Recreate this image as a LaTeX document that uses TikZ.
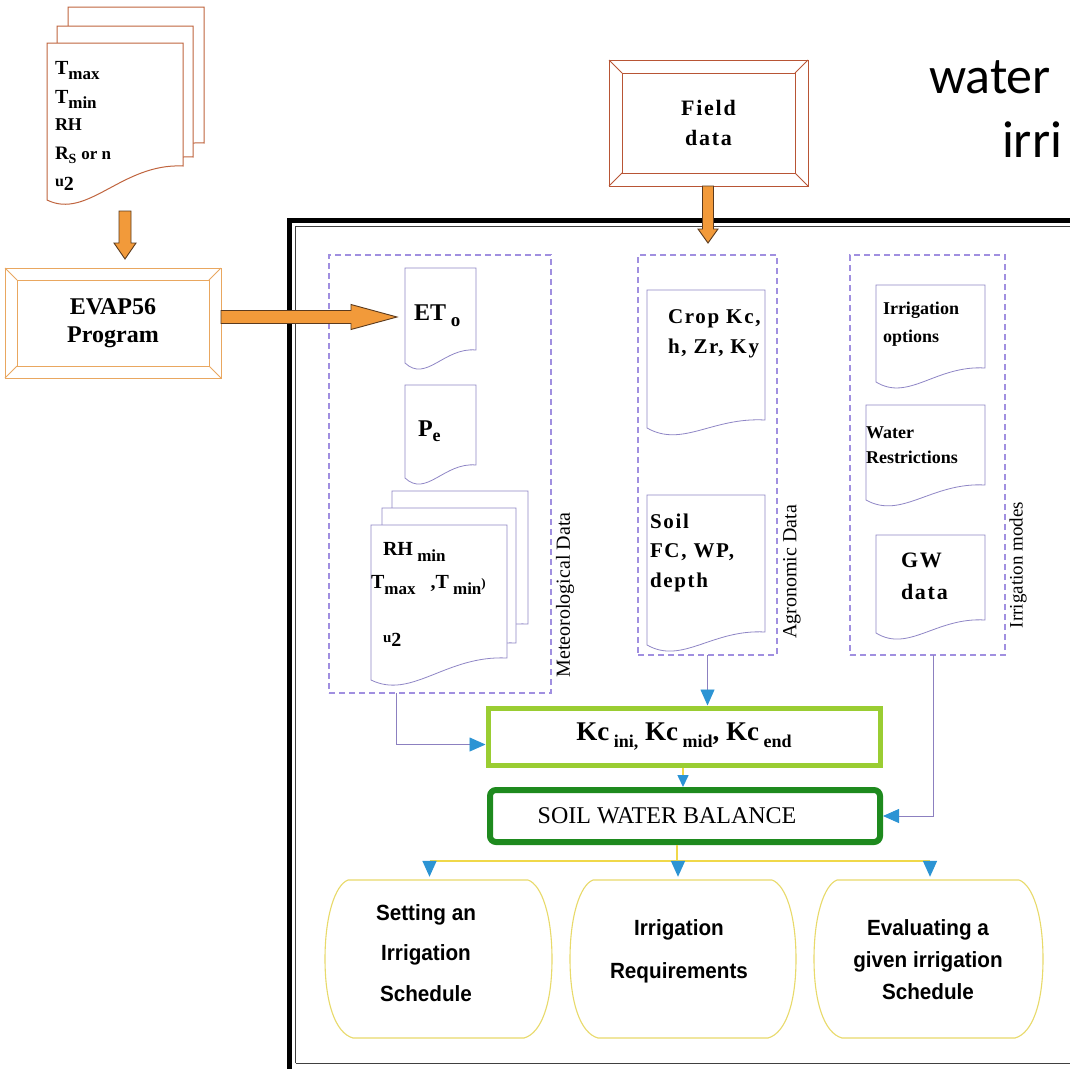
\documentclass[tikz,border=0pt]{standalone}
\usepackage{fontspec}
\setmainfont{Liberation Serif}
\newfontfamily\spacedserif[LetterSpace=8]{Liberation Serif}
\newfontfamily\titlefont{Carlito}
\newfontfamily\nodesans[FakeStretch=0.94]{Liberation Sans}
\usetikzlibrary{arrows.meta,calc}
\definecolor{docpurple}{HTML}{8F86C6}
\definecolor{dashpurple}{HTML}{A08FE0}
\definecolor{connpurple}{HTML}{8C80C0}
\definecolor{tipblue}{HTML}{2C94D4}
\definecolor{kcgreen}{HTML}{9ACD32}
\definecolor{swbgreen}{HTML}{1E8A1E}
\definecolor{nodeyellow}{HTML}{E8DA6A}
\definecolor{lineyellow}{HTML}{F0D84A}
\definecolor{orangefill}{HTML}{F29A3A}
\definecolor{arrowedge}{HTML}{5A3A1E}
\definecolor{evaporange}{HTML}{E9A760}
\definecolor{fieldred}{HTML}{B85535}
\definecolor{stackred}{HTML}{C0643E}
\newcommand\fs[1]{\fontsize{#1}{#1}\selectfont}
\newcommand\lsub[3]{\raisebox{#1}{\fontsize{#2}{#2}\selectfont #3}}
% document shape: style, L, T, R, Bright, Bleft
\newcommand\docpath[6]{\filldraw[#1] (#2,#3) -- (#4,#3) -- (#4,#5) .. controls ({#2+0.55*(#4-#2)},{#5-3}) and ({#2+0.3*(#4-#2)},{#6+20}) .. (#2,#6) -- cycle;}
% vertical block arrow: x, y1, y2, shaft half, head half, head length
\newcommand\vblock[6]{\filldraw[blockarrow] ({#1-#4},#2) -- ({#1+#4},#2) -- ({#1+#4},{#3-#6}) -- ({#1+#5},{#3-#6}) -- (#1,#3) -- ({#1-#5},{#3-#6}) -- ({#1-#4},{#3-#6}) -- cycle;}
% horizontal block arrow: x1, x2, y, shaft half, head half, head length
\newcommand\hblock[6]{\filldraw[blockarrow] (#1,{#3-#4}) -- ({#2-#6},{#3-#4}) -- ({#2-#6},{#3-#5}) -- (#2,#3) -- ({#2-#6},{#3+#5}) -- ({#2-#6},{#3+#4}) -- (#1,{#3+#4}) -- cycle;}
% bevel inner frame for a node: name, inset, colour
\newcommand\bevelin[3]{\draw[#3,line width=1pt] ($(#1.north west)+(#2,#2)$) rectangle ($(#1.south east)+(-#2,-#2)$);
 \draw[#3,line width=0.8pt] (#1.north west) -- ++(#2,#2) (#1.north east) -- ++(-#2,#2) (#1.south west) -- ++(#2,-#2) (#1.south east) -- ++(-#2,-#2);}
% barrel: x0, y0, x1, y1
\newcommand\barrel[4]{\draw[barrelline] ({#1+23},#2) -- ({#3-24},#2) .. controls ({#3-10},{#2+5}) and (#3,{#2+36}) .. (#3,{(#2+#4)/2}) .. controls (#3,{#4-36}) and ({#3-10},{#4-5}) .. ({#3-28},#4) -- ({#1+28},#4) .. controls ({#1+10},{#4-5}) and (#1,{#4-36}) .. (#1,{(#2+#4)/2}) .. controls (#1,{#2+36}) and ({#1+10},{#2+5}) .. cycle;}
\begin{document}
\begin{tikzpicture}[x=1pt,y=-1pt,
  txt/.style={anchor=base west,inner sep=0pt,outer sep=0pt},
  docline/.style={draw=docpurple,fill=white,line width=0.8pt},
  stackdoc/.style={draw=stackred,fill=white,line width=1pt},
  blockarrow/.style={fill=orangefill,draw=arrowedge,line width=0.9pt,line join=miter},
  dashbox/.style={draw=dashpurple,dashed,dash pattern=on 6pt off 4pt,line width=1.4pt,inner sep=0pt,outer sep=0pt},
  conn/.style={draw=connpurple,line width=0.9pt},
  ylw/.style={draw=lineyellow,line width=1.6pt},
  btip/.style={-{Triangle[width=14pt,length=16pt,color=tipblue]}},
  stip/.style={-{Triangle[width=11pt,length=12pt,color=tipblue]}},
  barrelline/.style={draw=nodeyellow,line width=1.1pt,fill=white},
  outtext/.style={font=\nodesans\bfseries,align=center,inner sep=0pt}]
\useasboundingbox (0,0) rectangle (1070,1068);
\clip (0,0) rectangle (1070,1068);
\fill[white] (0,0) rectangle (1070,1068);

% ---- main frame
\draw[line width=5pt] (289.5,1080) -- (289.5,220) -- (1090,220);
\draw[line width=1pt,black!75] (295.5,1063) -- (295.5,226.5) -- (1090,226.5);
\draw[line width=1pt,black!75] (295.5,1063) -- (1090,1063);

% ---- title (cut at the edge, as in the original)
\node[txt,font=\titlefont\fs{52}] (title1) at (929,93) {water};
\node[txt,font=\titlefont\fs{52}] (title2) at (1002,157) {irri};

% ---- top-left stack of weather data
\docpath{stackdoc}{68}{7}{204}{143}{172}
\docpath{stackdoc}{57}{26}{193}{157}{186}
\docpath{stackdoc}{47}{43}{183}{166}{200}
\node[txt,font=\bfseries\fs{20}] (tmax) at (55,74) {T\lsub{-5pt}{17}{max}};
\node[txt,font=\bfseries\fs{20}] (tmin) at (55,103) {T\lsub{-5pt}{17}{min}};
\node[txt,font=\bfseries\fs{18}] (rh) at (55,130) {RH};
\node[txt,font=\bfseries\fs{19}] (rs) at (55,159) {R\lsub{-4pt}{14}{S} \fs{17}or n};
\node[txt,font=\bfseries\fs{16}] (u2top) at (55,186) {u\lsub{-4pt}{20}{2}};

\vblock{125}{211}{259}{6}{11}{16}

% ---- EVAP56 program
\node[draw=evaporange,line width=1pt,outer sep=0pt,minimum width=216pt,minimum height=110pt,align=center,font=\bfseries\fs{24}] (evap) at (113,323) {EVAP56\\[4pt]Program};
\bevelin{evap}{12}{evaporange}

% ---- Field data
\node[draw=fieldred,line width=1pt,outer sep=0pt,minimum width=199pt,minimum height=126pt,align=center,font=\spacedserif\bfseries\fs{22}] (field) at (708.5,123) {Field\\[8pt]data};
\bevelin{field}{13}{fieldred}

% ---- dashed groups
\node[dashbox,minimum width=222pt,minimum height=438pt] (met) at (440,474) {};
\node[dashbox,minimum width=139pt,minimum height=400pt] (agro) at (707.5,455) {};
\node[dashbox,minimum width=155pt,minimum height=400pt] (irr) at (927.5,455) {};
\node[rotate=90,font=\fs{20}] (metlab) at (565,595) {Meteorological Data};
\node[rotate=90,font=\fs{20}] (agrolab) at (792,572) {Agronomic Data};
\node[rotate=90,font=\fs{19}] (irrlab) at (1018,565) {Irrigation modes};

\vblock{708}{186}{243}{5.5}{10}{14}

% ---- meteorological documents
\docpath{docline}{405}{268}{476}{350}{363}
\node[txt,font=\bfseries\fs{24}] (eto) at (414,320) {ET\lsub{-6pt}{19}{ o}};
\docpath{docline}{405}{385}{476}{465}{478}
\node[txt,font=\bfseries\fs{24}] (pe) at (418,436) {P\lsub{-5pt}{18}{e}};
\docpath{docline}{392}{491}{528}{624}{650}
\docpath{docline}{382}{508}{516}{643}{666}
\docpath{docline}{371}{525}{507}{658}{680}
\node[txt,font=\bfseries\fs{20}] (rhmin) at (383,555) {RH\lsub{-6pt}{17}{ min}};
\node[txt,font=\bfseries\fs{20}] (tmm) at (371,588) {T\lsub{-6pt}{17}{max}\ \ \ ,T\lsub{-6pt}{17}{ min}\lsub{1pt}{13}{)}};
\node[txt,font=\bfseries\fs{15}] (u2) at (383,642) {u\lsub{-4pt}{20}{2}};

\hblock{221}{397}{317}{6.5}{12.5}{46}

% ---- agronomic documents
\docpath{docline}{647}{290}{765}{420}{428}
\node[txt,font=\spacedserif\bfseries\fs{21}] (crop1) at (668,323) {Crop Kc,};
\node[txt,font=\spacedserif\bfseries\fs{21}] (crop2) at (668,353) {h, Zr, Ky};
\docpath{docline}{647}{495}{765}{632}{645}
\node[txt,font=\spacedserif\bfseries\fs{21}] (soil1) at (650,528) {Soil};
\node[txt,font=\spacedserif\bfseries\fs{21}] (soil2) at (650,557) {FC, WP,};
\node[txt,font=\spacedserif\bfseries\fs{21}] (soil3) at (650,587) {depth};

% ---- irrigation documents
\docpath{docline}{876}{285}{985}{368}{382}
\node[txt,font=\bfseries\fs{18}] (io1) at (883,314) {Irrigation};
\node[txt,font=\bfseries\fs{18}] (io2) at (883,342) {options};
\docpath{docline}{866}{405}{985}{485}{500}
\node[txt,font=\bfseries\fs{18}] (wr1) at (866,438) {Water};
\node[txt,font=\bfseries\fs{18}] (wr2) at (866,463) {Restrictions};
\docpath{docline}{876}{535}{985}{620}{633}
\node[txt,font=\spacedserif\bfseries\fs{22}] (gw1) at (901,567) {GW};
\node[txt,font=\spacedserif\bfseries\fs{22}] (gw2) at (901,599) {data};

% ---- Kc and soil water balance
\node[draw=kcgreen,line width=5pt,minimum width=392pt,minimum height=57pt,font=\bfseries\fs{27}] (kc) at (684,736.5)
  {Kc\lsub{-7pt}{18}{ ini,} Kc\lsub{-7pt}{18}{ mid}, Kc\lsub{-7pt}{18}{ end}};
\node[draw=swbgreen,line width=6pt,rounded corners=6pt,minimum width=390pt,minimum height=52pt,font=\fs{24}] (swb) at (685,816)
  {SOIL WATER BALANCE\hspace*{36pt}};

% ---- outputs
\barrel{325}{880}{552}{1038}
\barrel{570}{880}{796}{1038}
\barrel{814}{880}{1043}{1038}
\node[minimum width=227pt,minimum height=158pt] (o1) at (438.5,959) {};
\node[minimum width=226pt,minimum height=158pt] (o2) at (683,959) {};
\node[minimum width=229pt,minimum height=158pt] (o3) at (928.5,959) {};
\node[outtext,font=\nodesans\bfseries\fontsize{22}{40.5}\selectfont] (o1t) at (426,953) {Setting an\\Irrigation\\Schedule};
\node[outtext,font=\nodesans\bfseries\fontsize{22}{43}\selectfont] (o2t) at (679,951) {Irrigation\\Requirements};
\node[outtext,font=\nodesans\bfseries\fontsize{22}{32}\selectfont] (o3t) at (928,960) {Evaluating a\\given irrigation\\Schedule};

% ---- connectors
\draw[conn,btip] (agro.south) -- (agro.south |- kc.north);
\draw[conn,btip] ([xshift=-44pt]met.south) |- ([yshift=-8pt]kc.west);
\draw[conn,btip] ([xshift=5.5pt]irr.south) |- (swb.east);
\draw[ylw,stip] ([xshift=-1pt]kc.south) -- ([xshift=-1pt]kc.south |- swb.north);
\coordinate (split) at ([xshift=-8pt,yshift=-16pt]swb.south);
\draw[ylw] ([xshift=-8pt]swb.south) -- (split);
\draw[ylw] ([xshift=-9pt]o1.north |- split) -- ([xshift=1.5pt]o3.north |- split);
\draw[ylw,btip,shorten >=3pt] ([xshift=-9pt]o1.north |- split) -- ([xshift=-9pt]o1.north);
\draw[ylw,btip,shorten >=3pt] ([xshift=-5pt]o2.north |- split) -- ([xshift=-5pt]o2.north);
\draw[ylw,btip,shorten >=3pt] ([xshift=1.5pt]o3.north |- split) -- ([xshift=1.5pt]o3.north);
\end{tikzpicture}
\end{document}
